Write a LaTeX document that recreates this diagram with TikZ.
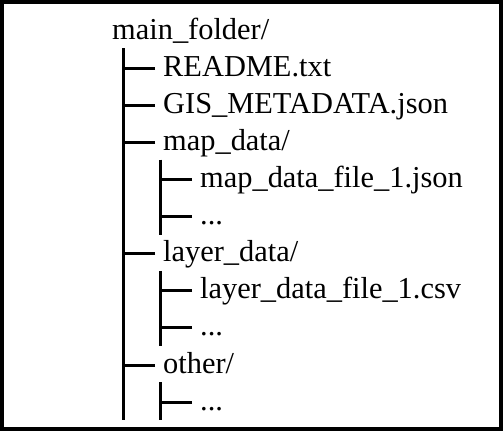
\documentclass[tikz,border=0pt]{standalone}
\usepackage{fontspec}
\setmainfont{Liberation Serif}
\usetikzlibrary{positioning,calc}
\tikzset{
  entry/.style={anchor=north west, inner xsep=8pt, inner ysep=0pt, text height=20pt, text depth=4pt, font=\fontsize{30.4}{32}\selectfont},
  under/.style={below=of #1.south west, anchor=north west},
  tree/.style={line width=3pt},
  frame/.style={line width=3.6pt}
}
\begin{document}
\begin{tikzpicture}[x=1pt, y=1pt, node distance=12.7pt]
\useasboundingbox (0,0) rectangle (503,431);
\draw[frame] (1.8,1.8) rectangle (500.7,429.2);
\node[entry] (root) at (104,412) {main\_folder/};
\node[entry, under=root, xshift=51pt] (readme) {README.txt};
\node[entry, under=readme] (meta) {GIS\_METADATA.json};
\node[entry, under=meta] (mapdir) {map\_data/};
\node[entry, under=mapdir, xshift=37pt] (mapfile) {map\_data\_file\_1.json};
\node[entry, under=mapfile] (mapmore) {...};
\node[entry, under=mapmore, xshift=-37pt] (layerdir) {layer\_data/};
\node[entry, under=layerdir, xshift=37pt] (layerfile) {layer\_data\_file\_1.csv};
\node[entry, under=layerfile] (layermore) {...};
\node[entry, under=layermore, xshift=-37pt] (otherdir) {other/};
\node[entry, under=otherdir, xshift=37pt] (othermore) {...};
% trunks
\foreach \p/\c/\l in {root/readme/othermore, mapdir/mapfile/mapmore, layerdir/layerfile/layermore, otherdir/othermore/othermore}
  \draw[tree] ($(\c.west |- \p.south)+(-32,-5)$) -- ($(\c.west |- \l.south)+(-32,-6)$);
% branches
\foreach \c in {readme,meta,mapdir,mapfile,mapmore,layerdir,layerfile,layermore,otherdir,othermore}
  \draw[tree] (\c.west) -- ++(-32,0);
\end{tikzpicture}
\end{document}
